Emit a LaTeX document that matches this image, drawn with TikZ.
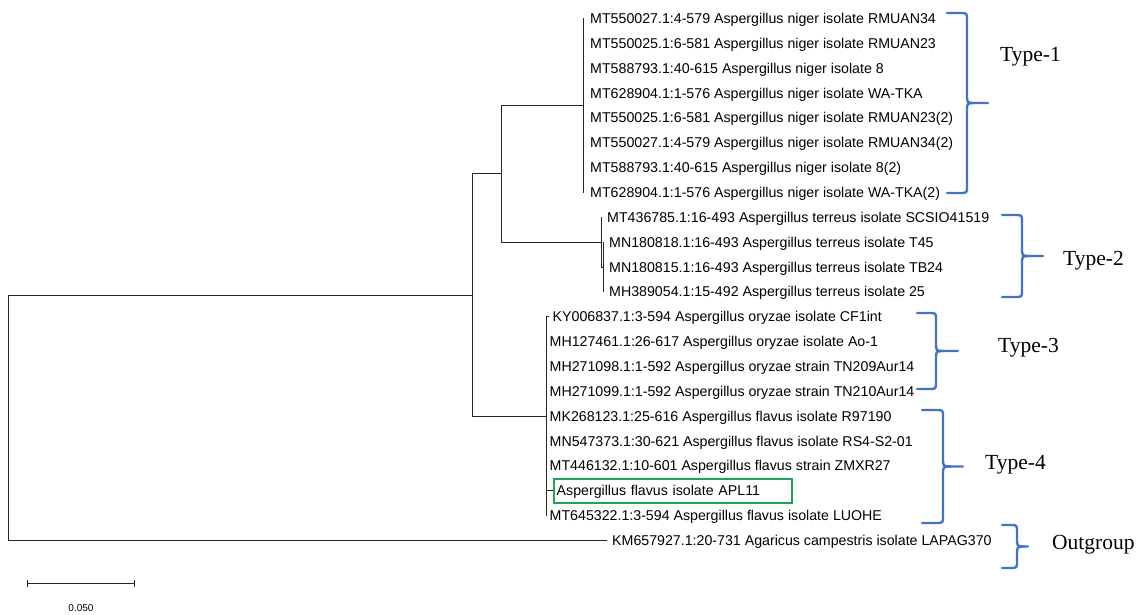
\documentclass[tikz,border=0pt]{standalone}
\usepackage{fontspec}
\setmainfont{Liberation Serif}
\newfontfamily\arialfont{Liberation Sans}
\usepackage{tikz}
\usetikzlibrary{arrows.meta, positioning}

\definecolor{bracebl}{RGB}{68,114,196}
\definecolor{boxgreen}{RGB}{34,160,90}

\newcommand{\leaffont}{\arialfont\fontsize{14.2}{16}\selectfont}

\tikzset{
  leaf/.style={anchor=west, inner xsep=3.5pt, inner ysep=0pt, text height=10pt, text depth=0pt, font=\leaffont},
  branch/.style={line width=0.9pt, black!85},
  typelabel/.style={anchor=west, inner sep=0pt, font=\fontsize{21.5}{24}\selectfont},
  cladebrace/.style={line width=2.4pt, bracebl, line join=round, line cap=round}
}

% right brace: left end, vertical x, top y, bottom y, tip x
\newcommand{\typebrace}[5]{%
  \draw[cladebrace] (#1,#3) -- ({#2-7},#3) .. controls (#2,#3) .. (#2,{#3+7})
    -- (#2,{(#3+#4)/2-8}) .. controls (#2,{(#3+#4)/2}) .. ({#2+8},{(#3+#4)/2})
    -- (#5,{(#3+#4)/2});
  \draw[cladebrace] ({#2+8},{(#3+#4)/2}) .. controls (#2,{(#3+#4)/2}) .. (#2,{(#3+#4)/2+8})
    -- (#2,{#4-7}) .. controls (#2,#4) .. ({#2-7},#4) -- (#1,#4);
}

\begin{document}
\begin{tikzpicture}[x=1pt, y=-1pt]
    \useasboundingbox (0,0) rectangle (1142,615);

    % Internal nodes of the tree
    \coordinate (root) at (8,417.7);
    \coordinate (asp) at (472,295);
    \coordinate (nt) at (501,173.8);
    \coordinate (niger) at (583,105.5);
    \coordinate (terreus) at (601.5,242.2);
    \coordinate (terreus2) at (603.5,267);
    \coordinate (flavus) at (546,416.1);

    % Type-1 leaves (A. niger)
    \node[leaf, inner xsep=7pt] (n1) at (583,18.5) {MT550027.1:4-579 Aspergillus niger isolate RMUAN34};
    \node[leaf, inner xsep=7pt] (n2) at (583,43.4) {MT550025.1:6-581 Aspergillus niger isolate RMUAN23};
    \node[leaf, inner xsep=7pt] (n3) at (583,68.2) {MT588793.1:40-615 Aspergillus niger isolate 8};
    \node[leaf, inner xsep=7pt] (n4) at (583,93.1) {MT628904.1:1-576 Aspergillus niger isolate WA-TKA};
    \node[leaf, inner xsep=7pt] (n5) at (583,117.9) {MT550025.1:6-581 Aspergillus niger isolate RMUAN23(2)};
    \node[leaf, inner xsep=7pt] (n6) at (583,142.8) {MT550027.1:4-579 Aspergillus niger isolate RMUAN34(2)};
    \node[leaf, inner xsep=7pt] (n7) at (583,167.6) {MT588793.1:40-615 Aspergillus niger isolate 8(2)};
    \node[leaf, inner xsep=7pt] (n8) at (583,192.5) {MT628904.1:1-576 Aspergillus niger isolate WA-TKA(2)};

    % Type-2 leaves (A. terreus)
    \node[leaf, inner xsep=5.5pt] (t1) at (601.5,217.3) {MT436785.1:16-493 Aspergillus terreus isolate SCSIO41519};
    \node[leaf, inner xsep=5.5pt] (t2) at (603.5,242.2) {MN180818.1:16-493 Aspergillus terreus isolate T45};
    \node[leaf, inner xsep=5.5pt] (t3) at (603.5,267) {MN180815.1:16-493 Aspergillus terreus isolate TB24};
    \node[leaf, inner xsep=5.5pt] (t4) at (603.5,291.9) {MH389054.1:15-492 Aspergillus terreus isolate 25};

    % Type-3 leaves (A. oryzae)
    \node[leaf] (o1) at (549,316.7) {KY006837.1:3-594 Aspergillus oryzae isolate CF1int};
    \node[leaf] (o2) at (546,341.6) {MH127461.1:26-617 Aspergillus oryzae isolate Ao-1};
    \node[leaf] (o3) at (546,366.4) {MH271098.1:1-592 Aspergillus oryzae strain TN209Aur14};
    \node[leaf] (o4) at (546,391.3) {MH271099.1:1-592 Aspergillus oryzae strain TN210Aur14};

    % Type-4 leaves (A. flavus)
    \node[leaf] (f1) at (546,416.1) {MK268123.1:25-616 Aspergillus flavus isolate R97190};
    \node[leaf] (f2) at (546,441) {MN547373.1:30-621 Aspergillus flavus isolate RS4-S2-01};
    \node[leaf] (f3) at (546,465.8) {MT446132.1:10-601 Aspergillus flavus strain ZMXR27};
    \node[leaf, draw=boxgreen, line width=2.4pt, inner xsep=2.5pt, text width=233pt, align=left, minimum height=24pt] (apl) at (553,490.7) {Aspergillus flavus isolate APL11};
    \node[leaf] (f5) at (546,515.5) {MT645322.1:3-594 Aspergillus flavus isolate LUOHE};

    % Outgroup leaf
    \node[leaf, inner xsep=5pt] (out) at (607,540.4) {KM657927.1:20-731 Agaricus campestris isolate LAPAG370};

    % Draw the branches
    \draw[branch] (root) |- (asp);
    \draw[branch] (root) |- (out.west);
    \draw[branch] (asp) |- (nt);
    \draw[branch] (asp) |- (flavus);
    \draw[branch] (nt) |- (niger);
    \draw[branch] (nt) |- (terreus);
    \draw[branch] (niger) |- (n1.west);
    \draw[branch] (niger) |- (n8.west);
    \draw[branch] (terreus) |- (t1.west);
    \draw[branch] (terreus) |- (terreus2);
    \draw[branch] (terreus2) |- (t2.west);
    \draw[branch] (terreus2) |- (t4.west);
    \draw[branch] (flavus) |- (o1.west);
    \draw[branch] (flavus) |- (f5.west);
    \draw[branch] (flavus) |- (apl.west);

    % Braces and type labels
    \typebrace{947}{967}{13}{193}{988}
    \typebrace{1002}{1022}{215}{297}{1043}
    \typebrace{917}{936}{313}{389}{958}
    \typebrace{922}{943}{410}{523}{963}
    \typebrace{1002}{1017}{525}{568}{1028}
    \node[typelabel] (type1) at (1000,57) {Type-1};
    \node[typelabel] (type2) at (1063,261) {Type-2};
    \node[typelabel] (type3) at (998,348) {Type-3};
    \node[typelabel] (type4) at (985,465) {Type-4};
    \node[typelabel] (outgroup) at (1052,545) {Outgroup};

    % Scale bar
    \coordinate (sbl) at (27,583);
    \coordinate (sbr) at (135,583);
    \draw[branch, {Bar[width=7pt]}-{Bar[width=7pt]}] (sbl) -- (sbr);
    \node[font=\arialfont\fontsize{10}{12}\selectfont] (sblabel) at (81,608) {0.050};

\end{tikzpicture}
\end{document}
